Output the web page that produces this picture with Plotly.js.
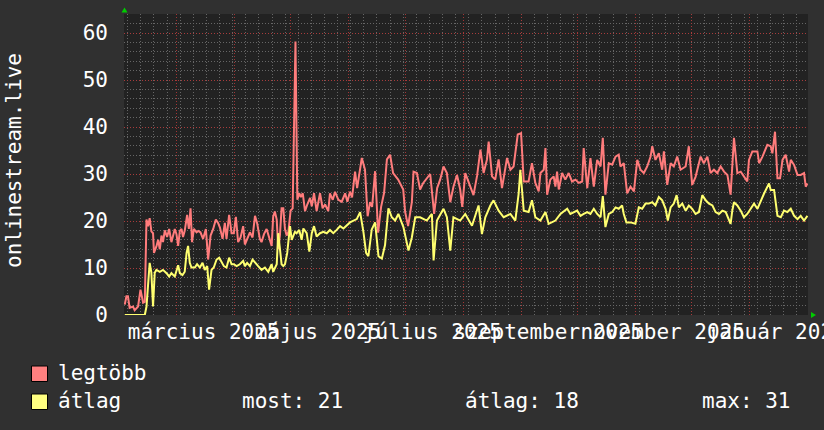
<!DOCTYPE html>
<html>
<head>
<meta charset="utf-8">
<script src="https://cdn.plot.ly/plotly-3.0.1.min.js"></script>
<style>html,body{margin:0;padding:0;background:#303030;}#chart{width:824px;height:430px;}</style>
</head>
<body>
<div id="chart"></div>
<script>
// ---- data (days since 2025-02-01) ----
const napokLegtobb = [0.4,1.3,2.1,3.0,4.8,5.7,7.5,8.8,10.2,11.1,12.0,12.8,13.7,14.6,15.5,16.0,17.3,18.2,19.1,20.0,20.8,21.8,23.0,24.1,25.3,26.2,27.1,28.0,28.9,29.8,30.7,31.5,32.4,33.7,34.6,35.5,36.3,37.3,38.7,39.6,40.8,42.2,43.7,44.9,46.2,47.6,49.0,50.2,51.2,52.6,53.8,54.7,56.1,57.4,58.6,59.7,60.9,62.2,63.6,64.5,65.4,67.2,68.6,69.9,71.1,72.5,73.4,74.7,76.1,77.5,78.8,79.6,80.5,81.5,82.3,83.2,84.1,85.0,85.9,86.8,87.7,88.9,90.0,91.5,92.5,93.5,94.4,95.4,96.6,97.8,99.3,100.2,101.4,102.8,104.6,106.0,107.3,109.0,109.9,111.4,112.6,114.4,116.2,118.0,119.2,120.6,121.7,123.3,124.4,126.9,128.6,130.0,131.3,132.4,134.0,135.6,137.2,138.8,140.3,142.0,143.6,146.3,149.0,150.0,151.6,153.6,154.5,156.3,158.0,159.7,162.3,163.4,165.5,167.1,168.7,170.5,172.3,174.1,175.8,177.7,179.4,180.5,182.1,183.9,186.5,188.4,190.2,191.9,193.7,194.6,196.4,198.1,199.9,201.7,203.5,204.4,206.2,207.9,210.1,211.9,213.3,215.9,217.7,219.5,221.3,222.2,224.0,224.9,225.8,227.5,229.3,230.2,231.1,232.0,233.8,235.5,237.3,239.1,240.9,242.7,244.5,245.3,247.2,248.9,250.7,252.5,254.3,255.5,256.9,258.7,260.5,262.3,264.0,264.9,266.7,268.5,270.3,272.1,273.9,275.6,277.4,279.2,281.0,281.9,283.6,285.4,287.2,288.1,289.9,291.7,293.4,295.2,297.0,299.7,301.4,303.2,305.0,307.7,309.4,311.3,313.0,314.8,316.6,318.4,320.2,322.0,323.7,325.5,327.3,329.1,330.8,332.6,333.5,335.3,338.0,338.9,340.7,343.3,345.1,346.0,347.4,348.7,350.1,351.4,353.1,354.9,355.8,357.6,359.4,361.1,362.9,363.8,364.7];
const legtobb = [2.2,4.0,4.0,1.5,1.8,1.0,1.8,5.4,2.6,2.8,20.3,18.9,20.6,17.8,17.4,13.2,14.6,16.0,14.0,16.9,15.5,18.0,16.6,18.3,15.5,16.9,18.3,17.2,14.7,17.9,18.3,16.6,17.9,21.3,18.3,22.7,15.5,18.3,17.6,17.9,17.6,16.2,18.3,11.8,16.9,18.3,20.3,19.6,18.6,16.2,19.6,16.2,21.3,17.4,17.4,20.9,15.5,16.5,18.9,15.0,16.0,17.6,16.5,21.1,19.4,16.2,15.5,17.2,18.3,16.5,14.7,20.9,22.0,20.3,14.0,16.9,22.7,22.7,18.3,16.9,17.6,22.2,22.7,58.2,24.5,25.9,25.1,25.9,22.1,23.5,24.9,23.1,25.9,22.1,25.9,22.7,23.5,22.1,25.9,24.5,26.2,24.5,24.1,25.9,24.1,26.2,25.0,30.5,27.0,33.4,30.9,21.0,24.0,23.0,30.6,17.5,23.0,26.0,33.1,34.1,30.2,28.8,26.7,22.0,18.9,24.0,30.5,30.2,26.7,28.1,29.5,30.0,21.5,27.0,28.8,31.6,30.2,24.0,27.3,29.8,26.7,23.0,30.2,28.4,25.5,29.6,35.2,30.2,33.1,36.9,29.5,28.8,33.1,27.0,31.2,33.4,30.9,31.6,38.4,38.7,28.4,28.4,32.3,28.1,26.3,30.2,30.9,35.5,25.6,28.8,29.5,27.3,30.5,26.7,30.2,28.8,30.2,28.4,28.8,28.1,28.4,35.5,27.0,33.4,27.3,33.0,31.6,37.7,25.6,32.3,32.0,33.7,34.1,31.6,32.3,25.9,27.3,26.3,33.0,30.9,30.2,31.6,33.7,35.9,33.0,34.4,30.9,34.8,27.7,32.3,31.6,33.7,30.9,31.6,35.9,27.7,29.4,33.7,32.3,33.7,30.2,30.9,30.2,31.6,30.5,29.8,25.6,37.7,30.2,30.5,29.5,28.4,33.0,34.8,34.8,32.3,33.7,36.2,35.9,34.4,39.0,29.1,29.1,33.0,34.1,30.5,33.0,31.9,29.8,29.8,30.2,27.3,28.0];

const napokAtlag = [0.4,11.1,12.0,12.8,13.7,14.6,15.5,16.4,17.3,19.1,20.8,22.7,24.1,25.3,27.1,28.9,29.8,31.2,32.4,33.4,34.2,35.1,36.0,37.8,39.0,40.5,41.9,43.1,44.4,45.4,46.7,47.9,49.4,50.8,52.1,53.3,54.7,56.1,57.4,58.6,60.1,61.8,63.6,64.5,65.7,67.2,68.6,69.9,71.6,73.4,75.2,77.0,78.8,79.6,81.5,82.3,83.2,84.1,85.0,85.9,87.1,88.6,89.5,90.3,91.2,92.1,93.5,94.8,95.7,97.5,98.9,100.2,101.4,102.8,104.6,106.4,108.2,109.9,111.7,113.5,115.3,117.1,118.9,120.6,124.2,126.0,127.8,129.2,130.4,132.2,134.0,135.8,137.6,139.3,141.1,142.9,144.7,146.4,149.1,151.8,153.6,155.4,158.0,161.6,164.3,165.2,167.0,170.5,172.3,174.1,175.8,179.4,182.1,185.7,189.2,191.0,192.8,195.5,197.2,199.9,202.6,206.2,208.8,210.6,211.5,213.3,215.9,217.7,219.5,222.2,224.9,226.6,230.2,232.9,236.5,238.2,241.8,243.6,245.3,247.2,248.9,250.7,252.5,254.3,255.5,256.9,258.7,260.5,262.3,264.0,265.8,266.7,268.1,270.3,272.9,274.7,276.5,278.3,280.1,281.9,283.6,285.4,287.2,289.0,290.2,291.7,293.4,294.9,296.1,297.9,299.7,301.4,303.2,305.0,306.8,308.6,310.4,312.2,314.0,315.7,317.5,319.3,321.1,322.9,323.7,324.6,325.5,327.3,329.1,330.8,332.6,334.4,336.2,338.0,339.8,341.5,344.2,345.1,346.9,348.7,350.5,352.2,354.0,355.8,357.6,359.4,361.1,362.9,364.7];
const atlag = [0,0,1.8,6.8,11.1,9.0,1.8,9.0,9.6,9.2,9.6,8.9,8.2,8.9,8.2,10.6,8.9,8.5,9.2,13.2,14.7,11.1,10.1,10.1,10.8,10.1,11.1,9.6,10.4,5.4,9.6,10.1,11.8,12.2,11.1,10.4,10.1,12.2,10.8,10.8,10.4,10.8,11.5,10.4,11.1,10.4,11.8,11.1,10.4,9.6,10.1,9.2,10.8,9.2,10.8,17.4,13.9,10.8,10.4,10.8,13.2,18.9,16.0,16.7,17.7,17.4,18.1,16.0,18.4,17.4,13.5,17.4,18.9,16.7,17.4,17.7,17.4,18.1,17.4,18.1,18.9,18.4,19.1,19.7,20.4,21.9,17.6,13.2,12.5,18.2,19.7,12.5,12.0,14.9,22.7,20.8,20.1,21.5,18.7,13.7,16.5,20.8,20.8,20.1,21.5,11.6,20.1,22.6,20.8,13.7,20.8,20.1,21.5,19.0,23.3,17.2,20.8,23.3,24.4,22.2,20.8,21.5,20.1,25.8,30.9,22.2,21.9,24.4,20.8,20.1,21.9,19.4,20.1,21.5,22.6,21.5,22.2,21.1,21.5,21.9,21.5,22.6,21.5,20.8,25.3,18.7,21.5,21.9,22.9,22.6,23.3,21.5,19.7,19.7,19.4,22.9,22.6,23.7,23.7,24.0,23.3,25.1,24.4,22.6,20.1,22.9,23.7,25.5,22.9,23.7,22.2,23.3,22.6,21.5,21.9,25.5,24.4,23.7,23.3,21.9,21.5,22.2,21.9,20.4,19.4,22.2,24.0,23.3,22.2,20.8,21.5,22.6,23.7,22.6,24.4,25.8,28.0,26.6,26.6,21.1,20.8,22.2,21.9,22.6,21.1,20.4,21.1,20.1,21.1];

const honapKezdet = ['2025-02-01','2025-03-01','2025-04-01','2025-05-01','2025-06-01','2025-07-01','2025-08-01','2025-09-01','2025-10-01','2025-11-01','2025-12-01','2026-01-01','2026-02-01'];
const cimkeHelyek = ['2025-03-15 12:00','2025-05-15 12:00','2025-07-15 12:00','2025-09-15 12:00','2025-11-15 12:00','2026-01-15 00:00'];
const cimkek = ['március 2025','május 2025','július 2025','szeptember 2025','november 2025','január 2026'];
const yTicks = [0,10,20,30,40,50,60];
const sorozatNevek = ['legtöbb','átlag'];
const statCimkek = ['most: 21','átlag: 18','max: 31'];

// ---- build ----
const START = Date.UTC(2025,1,1);
const toDate = d => new Date(START + d*86400000).toISOString().slice(0,19).replace('T',' ');
const xRange = ['2025-02-01','2026-02-01'];

const FONT = 'DejaVu Sans Mono, monospace';
const RED = '#ff7c7c', YEL = '#ffff70';
const MAJ = 'rgba(175,55,55,0.9)', MIN = '#666666';
const DASH = '1px,2px';

const traces = [
  {x: napokLegtobb.map(toDate), y: legtobb, type:'scatter', mode:'lines', line:{color:RED, width:2}, xaxis:'x', yaxis:'y', hoverinfo:'skip'},
  {x: napokAtlag.map(toDate), y: atlag, type:'scatter', mode:'lines', line:{color:YEL, width:2}, xaxis:'x2', yaxis:'y', hoverinfo:'skip'}
];

const L=124, T=14, W=684, H=301;
const px = v => (v-L)/W, py = v => (T+H-v)/H;

const shapes = [
  {type:'rect', xref:'paper', yref:'paper', x0:px(31.5), x1:px(47.5), y0:py(381.5), y1:py(366), fillcolor:'#ff8080', line:{color:'#000', width:1}},
  {type:'rect', xref:'paper', yref:'paper', x0:px(31.5), x1:px(47.5), y0:py(409.5), y1:py(394), fillcolor:'#ffff80', line:{color:'#000', width:1}},
  {type:'path', xref:'paper', yref:'paper', path:`M ${px(121.5)} ${py(12.5)} L ${px(127.5)} ${py(12.5)} L ${px(124.5)} ${py(7.5)} Z`, fillcolor:'#00cc00', line:{width:0}},
  {type:'path', xref:'paper', yref:'paper', path:`M ${px(811)} ${py(312)} L ${px(811)} ${py(318)} L ${px(816)} ${py(315)} Z`, fillcolor:'#00cc00', line:{width:0}}
];

const ann = (text,x,y) => ({text, xref:'paper', yref:'paper', x:px(x), y:py(y), xanchor:'left', yanchor:'middle', showarrow:false, font:{family:FONT, size:21, color:'#ffffff'}});
const annotations = [
  ann(sorozatNevek[0], 56, 373),
  ann(sorozatNevek[1], 56, 401),
  ann(statCimkek[0], 240, 401),
  ann(statCimkek[1], 463, 401),
  ann(statCimkek[2], 700, 401),
  {text:'onlinestream.live', xref:'paper', yref:'paper', x:px(14), y:py(161), xanchor:'center', yanchor:'middle', textangle:-90, showarrow:false, font:{family:FONT, size:21, color:'#ffffff'}}
];

const layout = {
  width:824, height:430,
  margin:{l:L, r:824-L-W, t:T, b:430-T-H, pad:0},
  paper_bgcolor:'#303030', plot_bgcolor:'#222222',
  showlegend:false,
  font:{family:FONT, size:21, color:'#ffffff'},
  xaxis:{type:'date', range:xRange, tickvals:honapKezdet, showticklabels:false, ticks:'',
         showgrid:true, gridcolor:MAJ, griddash:DASH, gridwidth:1,
         minor:{tick0:'2025-02-03', dtick:7*86400000, showgrid:true, gridcolor:MIN, griddash:DASH, gridwidth:1},
         zeroline:false, showline:false, fixedrange:true},
  xaxis2:{type:'date', range:xRange, overlaying:'x', matches:'x', side:'bottom', tickvals:cimkeHelyek, ticktext:cimkek,
          tickangle:0, ticks:'', showgrid:false, zeroline:false, showline:false, ticklabelstandoff:2, ticklabeloverflow:'allow',
          tickfont:{family:FONT, size:21, color:'#ffffff'}},
  yaxis:{range:[0, H/4.7], tickvals:yTicks, ticks:'', showgrid:true, gridcolor:MAJ, griddash:DASH,
         minor:{dtick:2, showgrid:true, gridcolor:MIN, griddash:DASH},
         zeroline:false, showline:false, ticklabelstandoff:15, tickfont:{family:FONT, size:21, color:'#ffffff'}},
  shapes, annotations
};

Plotly.newPlot('chart', traces, layout, {staticPlot:true, displayModeBar:false});
</script>
</body>
</html>
